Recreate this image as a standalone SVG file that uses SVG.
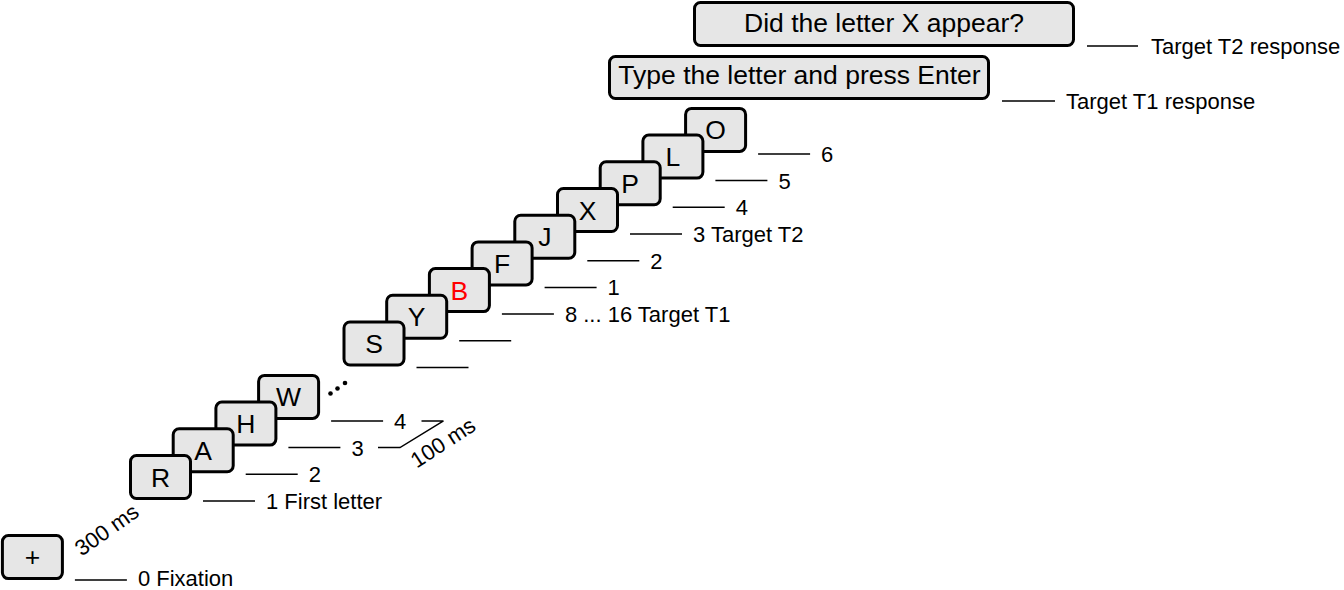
<svg xmlns="http://www.w3.org/2000/svg" width="1344" height="590" viewBox="0 0 1344 590">
<style>
.box{fill:#e6e6e6;stroke:#000;stroke-width:3}
.lt{font-family:"Liberation Sans",Arial,sans-serif;font-size:26.5px;text-anchor:middle;fill:#000}
.lb{font-family:"Liberation Sans",Arial,sans-serif;font-size:22px;fill:#000}
.ln{stroke:#000;stroke-width:1.5;fill:none}
</style>
<rect width="1344" height="590" fill="#fff"/>
<g id="q2"><rect class="box" x="694.5" y="2.5" width="379" height="43" rx="6"/><text class="lt" x="884" y="32">Did the letter X appear?</text></g>
<g id="q1"><rect class="box" x="609.5" y="56.5" width="379" height="42" rx="6"/><text class="lt" x="799.5" y="84">Type the letter and press Enter</text></g>
<g id="s13"><rect class="box" x="685.6" y="108.4" width="60" height="43" rx="6"/><text class="lt" x="715.6" y="139.4">O</text></g>
<g id="s12"><rect class="box" x="642.9" y="135.1" width="60" height="43" rx="6"/><text class="lt" x="672.9" y="166.1">L</text></g>
<g id="s11"><rect class="box" x="600.2" y="161.8" width="60" height="43" rx="6"/><text class="lt" x="630.2" y="192.8">P</text></g>
<g id="s10"><rect class="box" x="557.5" y="188.5" width="60" height="43" rx="6"/><text class="lt" x="587.5" y="219.5">X</text></g>
<g id="s9"><rect class="box" x="514.8" y="215.2" width="60" height="43" rx="6"/><text class="lt" x="544.8" y="246.2">J</text></g>
<g id="s8"><rect class="box" x="472.1" y="241.9" width="60" height="43" rx="6"/><text class="lt" x="502.1" y="272.9">F</text></g>
<g id="s7"><rect class="box" x="429.4" y="268.6" width="60" height="43" rx="6"/><text class="lt" x="459.4" y="299.6" fill="#ff0000" style="fill:#ff0000">B</text></g>
<g id="s6"><rect class="box" x="386.7" y="295.3" width="60" height="43" rx="6"/><text class="lt" x="416.7" y="326.3">Y</text></g>
<g id="s5"><rect class="box" x="344" y="322" width="60" height="43" rx="6"/><text class="lt" x="374" y="353">S</text></g>
<g id="s3"><rect class="box" x="258.6" y="375.4" width="60" height="43" rx="6"/><text class="lt" x="288.6" y="406.4">W</text></g>
<g id="s2"><rect class="box" x="215.9" y="402.1" width="60" height="43" rx="6"/><text class="lt" x="245.9" y="433.1">H</text></g>
<g id="s1"><rect class="box" x="173.2" y="428.8" width="60" height="43" rx="6"/><text class="lt" x="203.2" y="459.8">A</text></g>
<g id="s0"><rect class="box" x="130.5" y="455.5" width="60" height="43" rx="6"/><text class="lt" x="160.5" y="486.5">R</text></g>
<g id="fix"><rect class="box" x="2.4" y="535.6" width="60" height="43" rx="6"/><text class="lt" x="32.4" y="566.3">+</text></g>
<g id="dots"><circle cx="330.5" cy="393.5" r="2.3"/><circle cx="337.5" cy="388.5" r="2.3"/><circle cx="345" cy="383" r="2.3"/></g>
<g id="connectors">
<path class="ln" d="M74.9,580H126.9M203,501H255M245.7,474.3H297.7M288.4,447.6H340.4M331.1,420.9H383.1M416.5,367.5H468.5M459.2,340.8H511.2M501.9,314.1H553.9M544.6,287.4H596.6M587.3,260.7H639.3M630,234H682M672.7,207.3H724.7M715.4,180.6H767.4M758.1,153.9H810.1M1002,101H1055M1087,46H1138"/>
<path class="ln" d="M378,447.6H400L443.5,420.9M421.5,420.9H443.5"/>
</g>
<g id="labels">
<text class="lb" x="137.9" y="585.5">0 Fixation</text>
<text class="lb" x="266" y="509">1 First letter</text>
<text class="lb" x="308.7" y="482.3">2</text>
<text class="lb" x="351.4" y="455.6">3</text>
<text class="lb" x="394.1" y="428.9">4</text>
<text class="lb" x="564.9" y="322.1">8 ... 16 Target T1</text>
<text class="lb" x="607.6" y="295.4">1</text>
<text class="lb" x="650.3" y="268.7">2</text>
<text class="lb" x="693" y="242">3 Target T2</text>
<text class="lb" x="735.7" y="215.3">4</text>
<text class="lb" x="778.4" y="188.6">5</text>
<text class="lb" x="821.1" y="161.9">6</text>
<text class="lb" x="1066" y="109">Target T1 response</text>
<text class="lb" x="1151" y="54">Target T2 response</text>
<text class="lb" text-anchor="middle" transform="translate(447,449) rotate(-33)">100 ms</text>
<text class="lb" text-anchor="middle" transform="translate(111,536) rotate(-35)">300 ms</text>
</g>
</svg>
